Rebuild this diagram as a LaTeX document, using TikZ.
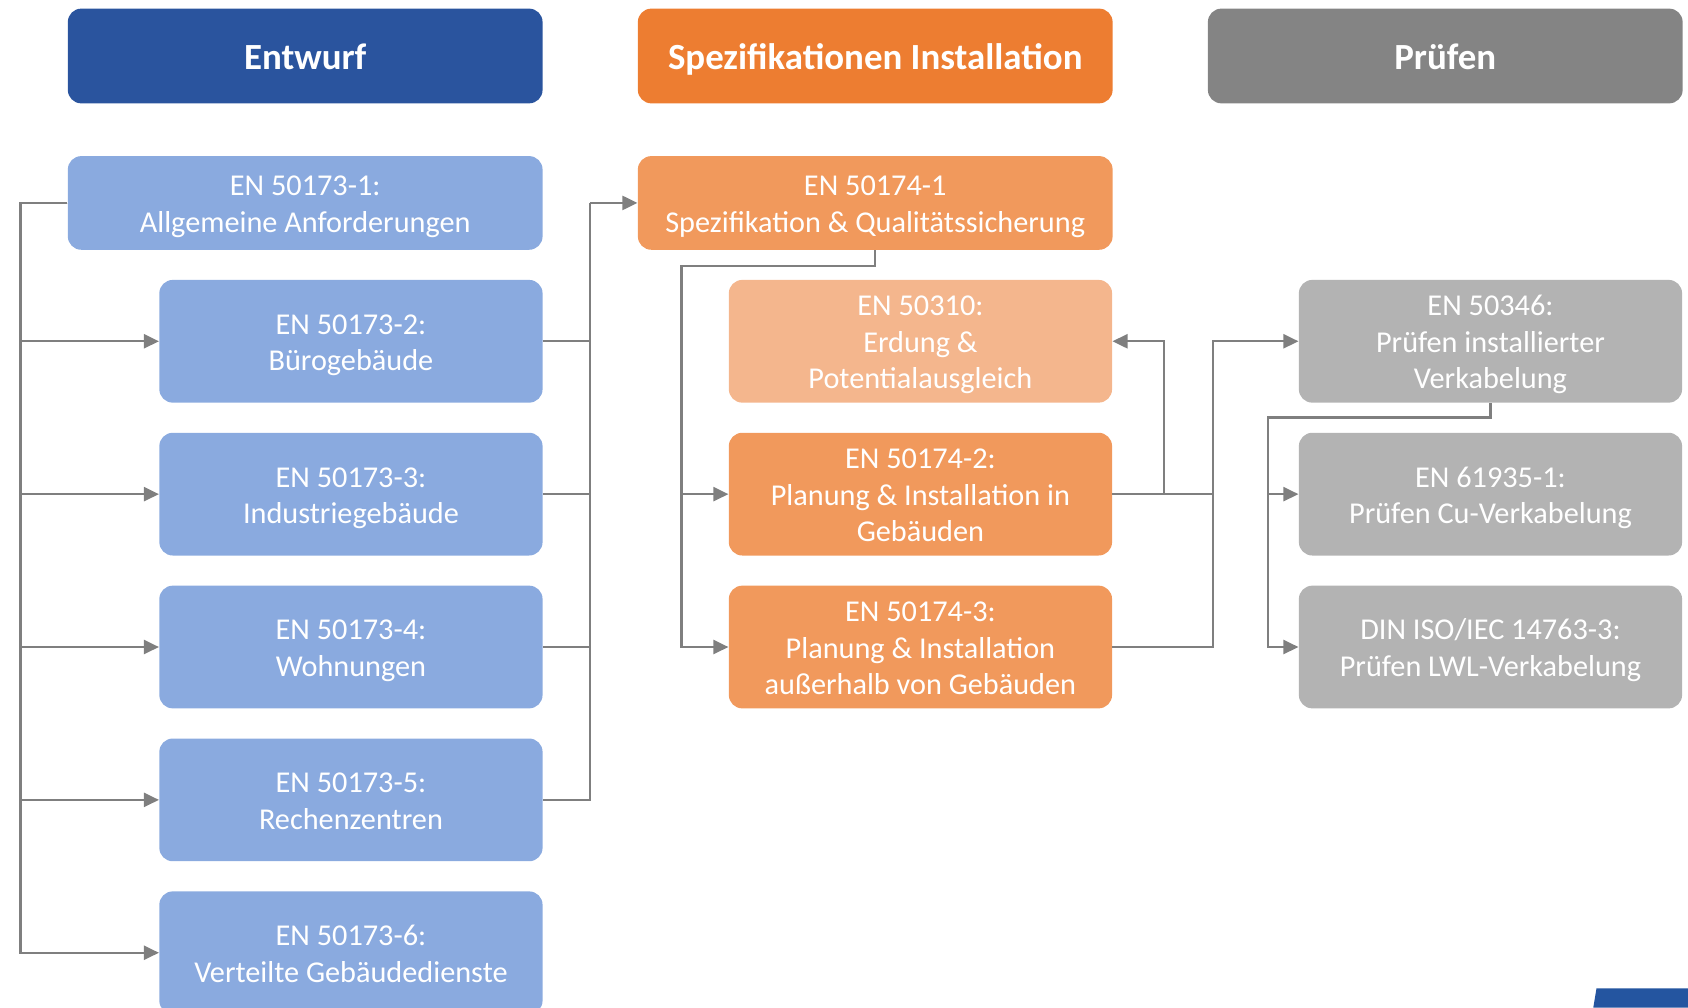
\documentclass[tikz,border=0pt]{standalone}
\usepackage{fontspec}
\setmainfont{Carlito}
\usetikzlibrary{arrows.meta}
\definecolor{darkA} {RGB}{42,  84,  158}
\definecolor{lightA}{RGB}{138, 170, 223}
\definecolor{darkB} {RGB}{237, 125, 49}
\definecolor{midB}  {RGB}{241, 153, 92}
\definecolor{lightB}{RGB}{244, 182, 141}
\definecolor{darkC} {RGB}{132, 132, 132}
\definecolor{lightC}{RGB}{179, 179, 179}
\definecolor{lineC} {RGB}{127, 127, 127}
\definecolor{logoA} {RGB}{36,  85,  160}

\begin{document}
\begin{tikzpicture}[
  head/.style={rounded corners=0.25cm, minimum width=8.82cm, minimum height=1.76cm, text=white, text height=14pt, text depth=0pt, font=\fontsize{19.5}{23}\selectfont\bfseries},
  box/.style={rounded corners=0.25cm, minimum width=7.12cm, minimum height=2.28cm, inner ysep=1pt, text width=6.8cm, text=white, align=flush center, font=\fontsize{16}{19.3}\selectfont,
    execute at begin node={\rule{0pt}{16.8pt}}, execute at end node={\rule[-5pt]{0pt}{5pt}}},
  wide/.style={box, minimum width=8.82cm, minimum height=1.74cm, text width=8.4cm},
  conn/.style={draw=lineC, line width=0.45mm},
  arr/.style={conn, -{Triangle[length=2.8mm, width=2.6mm]}}
]
  \useasboundingbox (0,0) rectangle (31.36,-18.72);

  \node[head, fill=darkA] (hE) at (5.67, -1.04)  {Entwurf};
  \node[head, fill=darkB] (hS) at (16.26, -1.04) {Spezifikationen Installation};
  \node[head, fill=darkC] (hP) at (26.85, -1.04) {Prüfen};

  \node[wide, fill=lightA] (e1) at (5.67, -3.77) {EN 50173-1:\\Allgemeine Anforderungen};
  \node[box, fill=lightA]  (e2) at (6.52, -6.34)  {EN 50173-2:\\Bürogebäude};
  \node[box, fill=lightA]  (e3) at (6.52, -9.18)  {EN 50173-3:\\Industriegebäude};
  \node[box, fill=lightA]  (e4) at (6.52, -12.02) {EN 50173-4:\\Wohnungen};
  \node[box, fill=lightA]  (e5) at (6.52, -14.86) {EN 50173-5:\\Rechenzentren};
  \node[box, fill=lightA]  (e6) at (6.52, -17.70) {EN 50173-6:\\Verteilte Gebäudedienste};

  \node[wide, fill=midB]   (s1)  at (16.26, -3.77) {EN 50174-1\\Spezifikation \& Qualitätssicherung};
  \node[box, fill=lightB]  (erd) at (17.10, -6.34)  {EN 50310:\\Erdung \&\\Potentialausgleich};
  \node[box, fill=midB]    (s2)  at (17.10, -9.18)  {EN 50174-2:\\Planung \& Installation in\\Gebäuden};
  \node[box, fill=midB]    (s3)  at (17.10, -12.02) {EN 50174-3:\\Planung \& Installation\\außerhalb von Gebäuden};

  \node[box, fill=lightC]  (p1) at (27.69, -6.34)  {EN 50346:\\Prüfen installierter\\Verkabelung};
  \node[box, fill=lightC]  (p2) at (27.69, -9.18)  {EN 61935-1:\\Prüfen Cu-Verkabelung};
  \node[box, fill=lightC]  (p3) at (27.69, -12.02) {DIN ISO/IEC 14763-3:\\Prüfen LWL-Verkabelung};

  % Entwurf
  \coordinate (bl) at (0.38, -3.77);
  \coordinate (br) at (10.96, -3.77);
  \foreach \n in {2,...,6} \draw[arr] (e1.west) -- (bl) |- (e\n.west);
  \foreach \n in {2,...,5} \draw[conn] (e\n.east) -| (br);
  \draw[arr] (br) -- (s1.west);

  % Installation
  \coordinate (sl) at (12.66, -4.94);
  \coordinate (su) at (21.62, -6.34);
  \coordinate (sr) at (22.54, -6.34);
  \draw[arr] (s1.south) |- (sl) |- (s2.west);
  \draw[arr] (sl) |- (s3.west);
  \draw[arr] (s2.east) -| (su) -- (erd.east);
  \draw[conn] (s2.east) -- (sr |- s2.east);
  \draw[arr] (s3.east) -| (sr) -- (p1.west);

  % Pruefen
  \coordinate (pl) at (23.56, -7.76);
  \draw[arr] (p1.south) |- (pl) |- (p2.west);
  \draw[arr] (pl) |- (p3.west);

  \fill[logoA] (29.66, -18.36) -- (31.36, -18.36) -- (31.36, -18.72) -- (29.60, -18.72) -- cycle;
\end{tikzpicture}
\end{document}
